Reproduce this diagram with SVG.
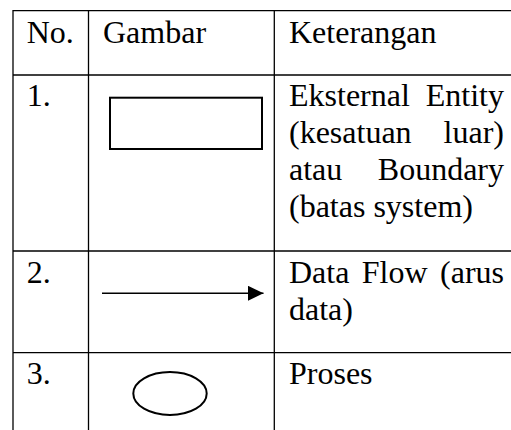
<svg xmlns="http://www.w3.org/2000/svg" width="511" height="430" viewBox="0 0 511 430">
  <style>
    .t { font-family: "Liberation Serif", "Times New Roman", serif; font-size: 32px; fill: #000; }
    .e { text-anchor: end; }
    .grid line { stroke: #000; stroke-width: 1.3; }
    .shape { fill: none; stroke: #000; stroke-width: 2; }
  </style>
  <defs>
    <marker id="arrow" markerWidth="16" markerHeight="16" refX="15.5" refY="7.5" orient="auto" markerUnits="userSpaceOnUse">
      <path d="M0,0 L15.5,7.5 L0,15 Z" fill="#000"/>
    </marker>
  </defs>
  <rect width="511" height="430" fill="#fff"/>

  <g id="grid" class="grid">
    <line x1="13" y1="10.7" x2="511" y2="10.7"/>
    <line x1="13" y1="75" x2="511" y2="75"/>
    <line x1="13" y1="251" x2="511" y2="251"/>
    <line x1="13" y1="352.7" x2="511" y2="352.7"/>
    <line x1="13" y1="10" x2="13" y2="430"/>
    <line x1="88.5" y1="10" x2="88.5" y2="430"/>
    <line x1="274.3" y1="10" x2="274.3" y2="430"/>
  </g>

  <g id="header">
    <text class="t" x="26.7" y="42.7">No.</text>
    <text class="t" x="103" y="42.7">Gambar</text>
    <text class="t" x="289" y="42.7">Keterangan</text>
  </g>

  <g id="row1">
    <text class="t" x="26.7" y="106">1.</text>
    <rect id="external-entity" class="shape" x="110" y="97.7" width="152" height="51.3"/>
    <text class="t" x="289" y="106">Eksternal</text>
    <text class="t e" x="504" y="106">Entity</text>
    <text class="t" x="289" y="143">(kesatuan</text>
    <text class="t e" x="504" y="143">luar)</text>
    <text class="t" x="289" y="180">atau</text>
    <text class="t e" x="504" y="180">Boundary</text>
    <text class="t" x="289" y="217">(batas system)</text>
  </g>

  <g id="row2">
    <text class="t" x="26.7" y="283">2.</text>
    <text class="t" x="289" y="283">Data</text>
    <text class="t" x="361.7" y="283">Flow</text>
    <text class="t e" x="504" y="283">(arus</text>
    <text class="t" x="289" y="319.5">data)</text>
  </g>

  <g id="connectors">
    <line x1="102" y1="293.3" x2="263.5" y2="293.3" stroke="#000" stroke-width="1.4" marker-end="url(#arrow)"/>
  </g>

  <g id="row3">
    <text class="t" x="26.7" y="383.5">3.</text>
    <ellipse id="process" class="shape" cx="170" cy="393.5" rx="36.7" ry="21.5"/>
    <text class="t" x="289" y="383.5">Proses</text>
  </g>
</svg>
